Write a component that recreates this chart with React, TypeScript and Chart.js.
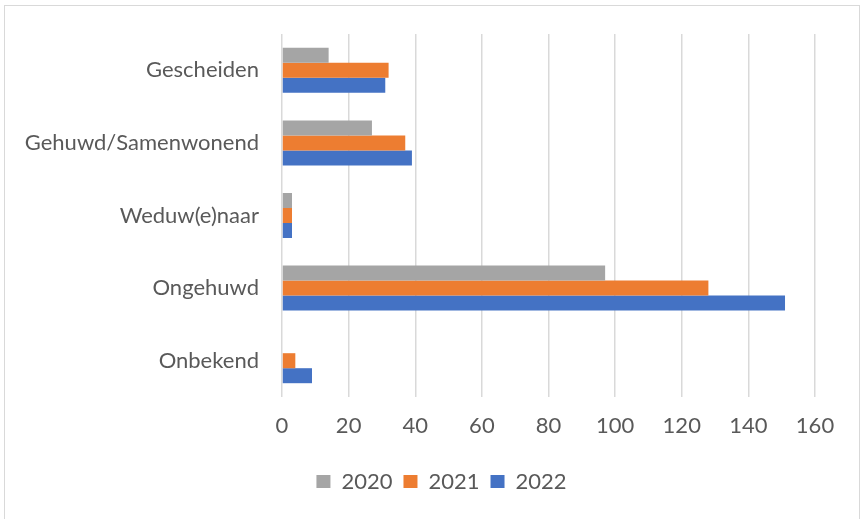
import React, { useEffect, useRef } from "react";
import { Chart, registerables } from "chart.js";

Chart.register(...registerables);

const categories = ["Gescheiden", "Gehuwd/Samenwonend", "Weduw(e)naar", "Ongehuwd", "Onbekend"];
const values2020 = [14, 27, 3, 97, 0];
const values2021 = [32, 37, 3, 128, 4];
const values2022 = [31, 39, 3, 151, 9];
const seriesLabels = ["2020", "2021", "2022"];
const xTicks = [0, 20, 40, 60, 80, 100, 120, 140, 160];

const FONT = "Lato, 'Liberation Sans', sans-serif";
const TEXT = "#595959";

const legendShift = {
  id: "legendShift",
  afterLayout(chart: any) {
    const lg = chart.legend;
    if (lg) {
      lg.left += 34;
      lg.right += 34;
    }
  },
};

export default function App() {
  const ref = useRef<HTMLCanvasElement | null>(null);

  useEffect(() => {
    document.body.style.margin = "0";
    const ctx = ref.current!;
    const chart = new Chart(ctx, {
      type: "bar",
      data: {
        labels: categories,
        datasets: [
          { label: seriesLabels[0], data: values2020, backgroundColor: "#A5A5A5" },
          { label: seriesLabels[1], data: values2021, backgroundColor: "#ED7D31" },
          { label: seriesLabels[2], data: values2022, backgroundColor: "#4472C4" },
        ],
      },
      plugins: [legendShift],
      options: {
        indexAxis: "y",
        animation: false,
        responsive: false,
        maintainAspectRatio: false,
        datasets: {
          bar: { categoryPercentage: 0.62, barPercentage: 1.0 },
        },
        layout: { padding: { top: 34, right: 47, left: 0, bottom: 16.5 } },
        plugins: {
          legend: {
            position: "bottom",
            labels: {
              font: { family: FONT, size: 22 },
              color: TEXT,
              boxWidth: 14,
              boxHeight: 13,
              padding: 11,
            },
          },
          tooltip: { enabled: false },
        },
        scales: {
          x: {
            min: 0,
            max: 160,
            afterBuildTicks: (s: any) => {
              s.ticks = xTicks.map((v) => ({ value: v }));
            },
            afterFit: (s: any) => {
              s.height = 62.5;
            },
            grid: { color: "#d9d9d9", lineWidth: 1.5, drawTicks: false },
            border: { display: false },
            ticks: { font: { family: FONT, size: 22 }, color: TEXT, padding: 16 },
          },
          y: {
            afterFit: (s: any) => {
              s.width = 282;
            },
            grid: { display: false },
            border: { display: false },
            ticks: { font: { family: FONT, size: 22 }, color: TEXT, padding: 15 },
          },
        },
      },
    });
    return () => chart.destroy();
  }, []);

  return (
    <div style={{ position: "absolute", left: 0, top: 0, width: 862, height: 519, background: "#fff" }}>
      <div
        style={{
          position: "absolute",
          left: 4,
          top: 5,
          width: 856,
          height: 520,
          border: "1px solid #d9d9d9",
          boxSizing: "border-box",
        }}
      />
      <canvas ref={ref} width={862} height={519} style={{ position: "absolute", left: 0, top: 0 }} />
    </div>
  );
}
